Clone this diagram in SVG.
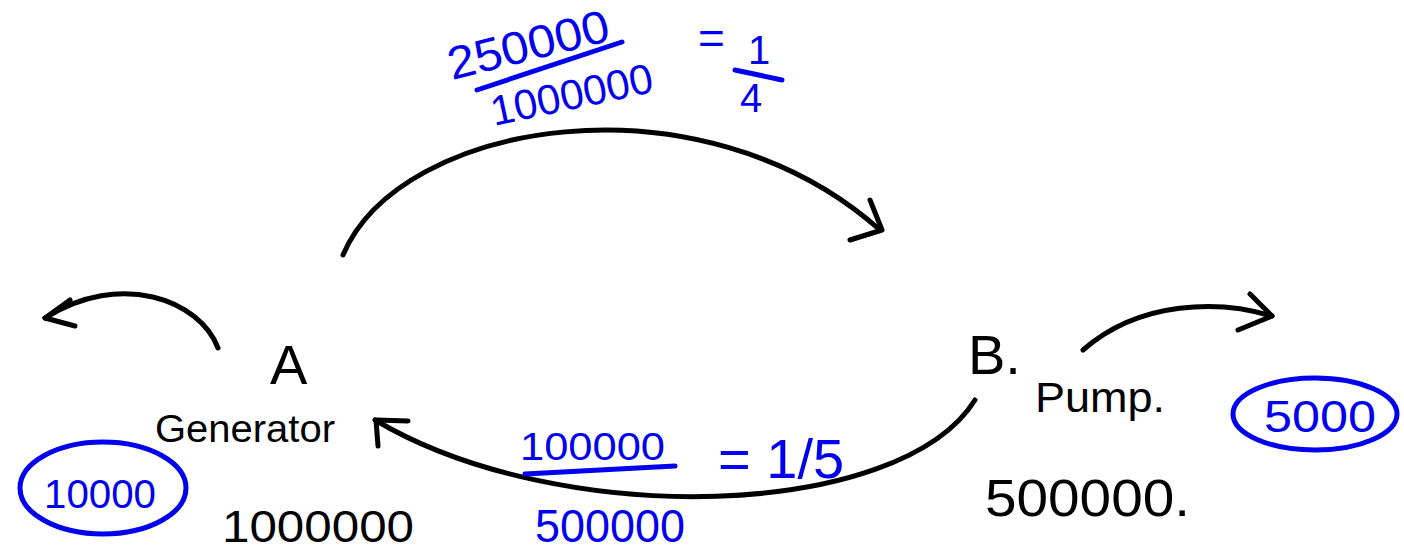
<svg xmlns="http://www.w3.org/2000/svg" width="1404" height="554" viewBox="0 0 1404 554">
<style>
.k{fill:#000;font-family:"Liberation Sans",Arial,sans-serif}
.b{fill:#0000ee;font-family:"Liberation Sans",Arial,sans-serif}
.ln{fill:none;stroke:#000;stroke-width:5;stroke-linecap:round;stroke-linejoin:round}
.bl{fill:none;stroke:#0000ee;stroke-width:5;stroke-linecap:round;stroke-linejoin:round}
</style>
<rect width="1404" height="554" fill="#fff"/>
<g id="connectors">
<path class="ln" d="M343,255 C400,120 700,70 880,230"/>
<path class="ln" d="M870,200 L882,230 L850,240"/>
<path class="ln" d="M218,348 C200,300 120,270 45,318"/>
<path class="ln" d="M70,300 L45,318 L75,326"/>
<path class="ln" d="M975,400 C900,520 560,530 375,420"/>
<path class="ln" d="M378,446 L376,420 L408,421"/>
<path class="ln" d="M1083,350 C1140,300 1220,300 1272,316"/>
<path class="ln" d="M1250,294 L1272,316 L1238,330"/>
</g>
<g id="top-label">
<text class="b" x="452" y="80" font-size="46" textLength="165" lengthAdjust="spacingAndGlyphs" transform="rotate(-14 452 80)">250000</text>
<path class="bl" d="M477,90 L622,42"/>
<text class="b" x="494" y="126" font-size="42" textLength="165" lengthAdjust="spacingAndGlyphs" transform="rotate(-12 494 126)">1000000</text>
<text class="b" x="698" y="54" font-size="46">=</text>
<text class="b" x="748" y="64" font-size="40">1</text>
<path class="bl" d="M735,70 L782,80"/>
<text class="b" x="740" y="112" font-size="40">4</text>
</g>
<g id="node-A">
<text class="k" x="270" y="384" font-size="56">A</text>
<text class="k" x="155" y="442" font-size="38" textLength="180" lengthAdjust="spacingAndGlyphs">Generator</text>
<text class="k" x="222" y="542" font-size="44" textLength="192" lengthAdjust="spacingAndGlyphs">1000000</text>
</g>
<g id="circle-10000">
<ellipse class="bl" cx="103" cy="488" rx="83" ry="46"/>
<text class="b" x="44" y="508" font-size="40" textLength="112" lengthAdjust="spacingAndGlyphs">10000</text>
</g>
<g id="bottom-label">
<text class="b" x="520" y="460" font-size="38" textLength="145" lengthAdjust="spacingAndGlyphs">100000</text>
<path class="bl" d="M525,474 L675,466"/>
<text class="b" x="718" y="478" font-size="56">= 1/5</text>
<text class="b" x="535" y="542" font-size="46" textLength="150" lengthAdjust="spacingAndGlyphs">500000</text>
</g>
<g id="node-B">
<text class="k" x="968" y="374" font-size="56">B.</text>
<text class="k" x="1035" y="412" font-size="42" textLength="130" lengthAdjust="spacingAndGlyphs">Pump.</text>
<text class="k" x="985" y="516" font-size="52" textLength="205" lengthAdjust="spacingAndGlyphs">500000.</text>
</g>
<g id="circle-5000">
<ellipse class="bl" cx="1315" cy="414" rx="82" ry="36"/>
<text class="b" x="1264" y="432" font-size="44" textLength="112" lengthAdjust="spacingAndGlyphs">5000</text>
</g>
</svg>
